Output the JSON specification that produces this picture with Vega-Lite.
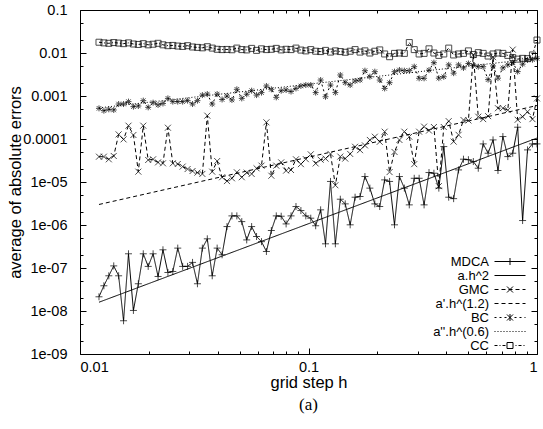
{
"$schema": "https://vega.github.io/schema/vega-lite/v6.json",
"width": 457, "height": 344,
"autosize": {"type": "none"},
"padding": {"left": 80, "top": 10, "right": 6, "bottom": 75},
"background": "white",
"title": {"text": "(a)", "orient": "bottom", "font": "Liberation Serif", "fontSize": 17, "fontWeight": "normal", "color": "black", "offset": 6},
"config": {
  "view": {"stroke": "black", "strokeWidth": 1},
  "font": "Liberation Sans",
  "axis": {"grid": false, "domain": false, "labelFont": "Liberation Sans", "labelFontSize": 14.5, "labelColor": "black", "titleFont": "Liberation Sans", "titleFontSize": 16.5, "titleFontWeight": "normal", "titleColor": "black", "tickColor": "black", "tickWidth": 1},
  "legend": {"labelFont": "Liberation Sans", "labelFontSize": 13, "labelColor": "black", "labelAlign": "right", "labelOffset": -17, "symbolSize": 100, "rowPadding": 0, "symbolStrokeColor": "black", "symbolFillColor": "transparent", "symbolStrokeWidth": 1, "symbolOpacity": 1, "padding": 0}
},
"resolve": {"axis": {"x": "independent", "y": "independent"}},
"datasets": {"d": [
{"h":0.01211,"series":"MDCA","err":2.14e-8},{"h":0.01272,"series":"MDCA","err":3.86e-8},{"h":0.01337,"series":"MDCA","err":6.59e-8},{"h":0.01405,"series":"MDCA","err":1.12e-7},{"h":0.01476,"series":"MDCA","err":6.59e-8},{"h":0.01551,"series":"MDCA","err":5.93e-9},{"h":0.0163,"series":"MDCA","err":2.14e-7},{"h":0.01713,"series":"MDCA","err":1.03e-8},{"h":0.018,"series":"MDCA","err":4.3e-8},{"h":0.01892,"series":"MDCA","err":2.14e-7},{"h":0.01988,"series":"MDCA","err":1.09e-7},{"h":0.02089,"series":"MDCA","err":2.14e-7},{"h":0.02196,"series":"MDCA","err":6.35e-8},{"h":0.02307,"series":"MDCA","err":2.65e-7},{"h":0.02425,"series":"MDCA","err":7.87e-8},{"h":0.02548,"series":"MDCA","err":8.3e-8},{"h":0.02678,"series":"MDCA","err":2.9e-7},{"h":0.02814,"series":"MDCA","err":1.09e-7},{"h":0.02957,"series":"MDCA","err":1.09e-7},{"h":0.03108,"series":"MDCA","err":1.35e-7},{"h":0.03266,"series":"MDCA","err":4.3e-8},{"h":0.03432,"series":"MDCA","err":2.9e-7},{"h":0.03607,"series":"MDCA","err":4.77e-7},{"h":0.0379,"series":"MDCA","err":6.59e-8},{"h":0.03983,"series":"MDCA","err":2.9e-7},{"h":0.04186,"series":"MDCA","err":2.03e-7},{"h":0.04399,"series":"MDCA","err":9.2e-7},{"h":0.04623,"series":"MDCA","err":1.63e-6},{"h":0.04858,"series":"MDCA","err":1.63e-6},{"h":0.05105,"series":"MDCA","err":1.2e-6},{"h":0.05365,"series":"MDCA","err":4.5e-7},{"h":0.05638,"series":"MDCA","err":9.2e-7},{"h":0.05925,"series":"MDCA","err":5.4e-7},{"h":0.06227,"series":"MDCA","err":4.1e-7},{"h":0.06544,"series":"MDCA","err":2.42e-7},{"h":0.06877,"series":"MDCA","err":7.45e-7},{"h":0.07227,"series":"MDCA","err":1.63e-6},{"h":0.07595,"series":"MDCA","err":1.6e-6},{"h":0.07981,"series":"MDCA","err":1.06e-6},{"h":0.08387,"series":"MDCA","err":1.63e-6},{"h":0.08814,"series":"MDCA","err":2.69e-6},{"h":0.09263,"series":"MDCA","err":2.17e-6},{"h":0.09734,"series":"MDCA","err":1.63e-6},{"h":0.1023,"series":"MDCA","err":1.44e-6},{"h":0.1075,"series":"MDCA","err":9.6e-7},{"h":0.113,"series":"MDCA","err":2.25e-6},{"h":0.1187,"series":"MDCA","err":3.65e-7},{"h":0.1248,"series":"MDCA","err":1.03e-5},{"h":0.1311,"series":"MDCA","err":3.65e-7},{"h":0.1378,"series":"MDCA","err":3.98e-6},{"h":0.1448,"series":"MDCA","err":3.1e-6},{"h":0.1522,"series":"MDCA","err":1.01e-6},{"h":0.1599,"series":"MDCA","err":4.43e-6},{"h":0.1681,"series":"MDCA","err":4.6e-6},{"h":0.1766,"series":"MDCA","err":1.34e-5},{"h":0.1856,"series":"MDCA","err":7.2e-6},{"h":0.1951,"series":"MDCA","err":3.1e-6},{"h":0.205,"series":"MDCA","err":2.69e-6},{"h":0.2154,"series":"MDCA","err":1.12e-5},{"h":0.2264,"series":"MDCA","err":1.03e-5},{"h":0.2379,"series":"MDCA","err":1.01e-6},{"h":0.25,"series":"MDCA","err":1.34e-5},{"h":0.2627,"series":"MDCA","err":7.2e-6},{"h":0.2761,"series":"MDCA","err":2.94e-6},{"h":0.2902,"series":"MDCA","err":1.22e-5},{"h":0.3049,"series":"MDCA","err":1.22e-5},{"h":0.3205,"series":"MDCA","err":2.94e-6},{"h":0.3368,"series":"MDCA","err":1.66e-5},{"h":0.3539,"series":"MDCA","err":1.6e-5},{"h":0.3719,"series":"MDCA","err":7.2e-6},{"h":0.3909,"series":"MDCA","err":6.67e-5},{"h":0.4108,"series":"MDCA","err":4.43e-6},{"h":0.4317,"series":"MDCA","err":4.1e-6},{"h":0.4536,"series":"MDCA","err":1.91e-5},{"h":0.4767,"series":"MDCA","err":3.39e-5},{"h":0.501,"series":"MDCA","err":3.3e-5},{"h":0.5265,"series":"MDCA","err":2.99e-5},{"h":0.5533,"series":"MDCA","err":2.09e-5},{"h":0.5814,"series":"MDCA","err":7.69e-5},{"h":0.611,"series":"MDCA","err":4.67e-5},{"h":0.6421,"series":"MDCA","err":9.53e-5},{"h":0.6748,"series":"MDCA","err":1.85e-5},{"h":0.7091,"series":"MDCA","err":1.14e-4},{"h":0.7452,"series":"MDCA","err":3.9e-5},{"h":0.7832,"series":"MDCA","err":4.67e-5},{"h":0.823,"series":"MDCA","err":1.88e-4},{"h":0.8649,"series":"MDCA","err":1.27e-6},{"h":0.9089,"series":"MDCA","err":5.58e-5},{"h":0.9552,"series":"MDCA","err":7.69e-5},{"h":1,"series":"MDCA","err":7.69e-5},
{"h":0.01211,"series":"GMC","err":3.88e-5},{"h":0.01272,"series":"GMC","err":3.88e-5},{"h":0.01337,"series":"GMC","err":3.37e-5},{"h":0.01405,"series":"GMC","err":4.03e-5},{"h":0.01476,"series":"GMC","err":1.28e-4},{"h":0.01551,"series":"GMC","err":9.8e-5},{"h":0.0163,"series":"GMC","err":2.04e-4},{"h":0.01713,"series":"GMC","err":1.24e-4},{"h":0.018,"series":"GMC","err":1.74e-5},{"h":0.01892,"series":"GMC","err":2.04e-4},{"h":0.01988,"series":"GMC","err":3.25e-5},{"h":0.02089,"series":"GMC","err":3.37e-5},{"h":0.02196,"series":"GMC","err":2.86e-5},{"h":0.02307,"series":"GMC","err":2.72e-5},{"h":0.02425,"series":"GMC","err":1.83e-4},{"h":0.02548,"series":"GMC","err":2.72e-5},{"h":0.02678,"series":"GMC","err":2.62e-5},{"h":0.02814,"series":"GMC","err":2.28e-5},{"h":0.02957,"series":"GMC","err":2.0e-5},{"h":0.03108,"series":"GMC","err":1.8e-5},{"h":0.03266,"series":"GMC","err":1.65e-5},{"h":0.03432,"series":"GMC","err":1.54e-5},{"h":0.03607,"series":"GMC","err":3.49e-4},{"h":0.0379,"series":"GMC","err":1.74e-5},{"h":0.03983,"series":"GMC","err":3.07e-5},{"h":0.04186,"series":"GMC","err":1.29e-5},{"h":0.04399,"series":"GMC","err":1.05e-5},{"h":0.04623,"series":"GMC","err":1.22e-5},{"h":0.04858,"series":"GMC","err":1.68e-5},{"h":0.05105,"series":"GMC","err":1.29e-5},{"h":0.05365,"series":"GMC","err":1.65e-5},{"h":0.05638,"series":"GMC","err":1.54e-5},{"h":0.05925,"series":"GMC","err":2.08e-5},{"h":0.06227,"series":"GMC","err":2.4e-5},{"h":0.06544,"series":"GMC","err":2.44e-4},{"h":0.06877,"series":"GMC","err":1.4e-5},{"h":0.07227,"series":"GMC","err":2.4e-5},{"h":0.07595,"series":"GMC","err":2.86e-5},{"h":0.07981,"series":"GMC","err":1.84e-5},{"h":0.08387,"series":"GMC","err":1.9e-5},{"h":0.08814,"series":"GMC","err":3.37e-5},{"h":0.09263,"series":"GMC","err":2.6e-5},{"h":0.09734,"series":"GMC","err":3.4e-5},{"h":0.1023,"series":"GMC","err":4.4e-5},{"h":0.1075,"series":"GMC","err":2.7e-5},{"h":0.113,"series":"GMC","err":3.3e-5},{"h":0.1187,"series":"GMC","err":3.5e-5},{"h":0.1248,"series":"GMC","err":4.5e-5},{"h":0.1311,"series":"GMC","err":8.4e-6},{"h":0.1378,"series":"GMC","err":3.9e-5},{"h":0.1448,"series":"GMC","err":3.5e-5},{"h":0.1522,"series":"GMC","err":4.5e-5},{"h":0.1599,"series":"GMC","err":6.6e-5},{"h":0.1681,"series":"GMC","err":5.5e-5},{"h":0.1766,"series":"GMC","err":7.1e-5},{"h":0.1856,"series":"GMC","err":9.5e-5},{"h":0.1951,"series":"GMC","err":1.13e-4},{"h":0.205,"series":"GMC","err":8.6e-5},{"h":0.2154,"series":"GMC","err":1.48e-4},{"h":0.2264,"series":"GMC","err":1.7e-5},{"h":0.2379,"series":"GMC","err":5.0e-5},{"h":0.25,"series":"GMC","err":9.5e-5},{"h":0.2627,"series":"GMC","err":1.48e-4},{"h":0.2761,"series":"GMC","err":1.13e-4},{"h":0.2902,"series":"GMC","err":2.6e-5},{"h":0.3049,"series":"GMC","err":1.48e-4},{"h":0.3205,"series":"GMC","err":1.94e-4},{"h":0.3368,"series":"GMC","err":1.57e-4},{"h":0.3539,"series":"GMC","err":1.9e-4},{"h":0.3719,"series":"GMC","err":8.0e-6},{"h":0.3909,"series":"GMC","err":1.9e-4},{"h":0.4108,"series":"GMC","err":2.6e-4},{"h":0.4317,"series":"GMC","err":8.7e-5},{"h":0.4536,"series":"GMC","err":1.25e-4},{"h":0.4767,"series":"GMC","err":2.77e-4},{"h":0.501,"series":"GMC","err":2.7e-4},{"h":0.5265,"series":"GMC","err":9.0e-3},{"h":0.5533,"series":"GMC","err":3.3e-4},{"h":0.5814,"series":"GMC","err":2.9e-4},{"h":0.611,"series":"GMC","err":3.4e-4},{"h":0.6421,"series":"GMC","err":8.0e-3},{"h":0.6748,"series":"GMC","err":5.2e-4},{"h":0.7091,"series":"GMC","err":5.2e-4},{"h":0.7452,"series":"GMC","err":4.7e-4},{"h":0.7832,"series":"GMC","err":1.2e-2},{"h":0.823,"series":"GMC","err":2.8e-4},{"h":0.8649,"series":"GMC","err":3.3e-4},{"h":0.9089,"series":"GMC","err":4.3e-4},{"h":0.9552,"series":"GMC","err":2.9e-4},{"h":1,"series":"GMC","err":8.8e-4},
{"h":0.01211,"series":"BC","err":5.16e-4},{"h":0.01272,"series":"BC","err":4.56e-4},{"h":0.01337,"series":"BC","err":4.9e-4},{"h":0.01405,"series":"BC","err":4.73e-4},{"h":0.01476,"series":"BC","err":6.5e-4},{"h":0.01551,"series":"BC","err":6.5e-4},{"h":0.0163,"series":"BC","err":7.4e-4},{"h":0.01713,"series":"BC","err":5.65e-4},{"h":0.018,"series":"BC","err":5.85e-4},{"h":0.01892,"series":"BC","err":7.8e-4},{"h":0.01988,"series":"BC","err":5.45e-4},{"h":0.02089,"series":"BC","err":7.0e-4},{"h":0.02196,"series":"BC","err":6.2e-4},{"h":0.02307,"series":"BC","err":6.7e-4},{"h":0.02425,"series":"BC","err":8.8e-4},{"h":0.02548,"series":"BC","err":7.4e-4},{"h":0.02678,"series":"BC","err":7.4e-4},{"h":0.02814,"series":"BC","err":7.4e-4},{"h":0.02957,"series":"BC","err":7.8e-4},{"h":0.03108,"series":"BC","err":6.5e-4},{"h":0.03266,"series":"BC","err":7.8e-4},{"h":0.03432,"series":"BC","err":1.05e-3},{"h":0.03607,"series":"BC","err":1.11e-3},{"h":0.0379,"series":"BC","err":6.5e-4},{"h":0.03983,"series":"BC","err":1.11e-3},{"h":0.04186,"series":"BC","err":8.3e-4},{"h":0.04399,"series":"BC","err":1.0e-3},{"h":0.04623,"series":"BC","err":8.1e-4},{"h":0.04858,"series":"BC","err":1.43e-3},{"h":0.05105,"series":"BC","err":8.8e-4},{"h":0.05365,"series":"BC","err":1.1e-3},{"h":0.05638,"series":"BC","err":1.33e-3},{"h":0.05925,"series":"BC","err":1.05e-3},{"h":0.06227,"series":"BC","err":1.2e-3},{"h":0.06544,"series":"BC","err":1.71e-3},{"h":0.06877,"series":"BC","err":1.43e-3},{"h":0.07227,"series":"BC","err":9.3e-4},{"h":0.07595,"series":"BC","err":1.33e-3},{"h":0.07981,"series":"BC","err":1.38e-3},{"h":0.08387,"series":"BC","err":1.27e-3},{"h":0.08814,"series":"BC","err":1.5e-3},{"h":0.09263,"series":"BC","err":1.71e-3},{"h":0.09734,"series":"BC","err":1.8e-3},{"h":0.1023,"series":"BC","err":1.8e-3},{"h":0.1075,"series":"BC","err":1.2e-3},{"h":0.113,"series":"BC","err":2.35e-3},{"h":0.1187,"series":"BC","err":9.6e-4},{"h":0.1248,"series":"BC","err":1.8e-3},{"h":0.1311,"series":"BC","err":1.2e-3},{"h":0.1378,"series":"BC","err":3.08e-3},{"h":0.1448,"series":"BC","err":2.04e-3},{"h":0.1522,"series":"BC","err":1.8e-3},{"h":0.1599,"series":"BC","err":2.23e-3},{"h":0.1681,"series":"BC","err":2.35e-3},{"h":0.1766,"series":"BC","err":3.88e-3},{"h":0.1856,"series":"BC","err":2.82e-3},{"h":0.1951,"series":"BC","err":3.68e-3},{"h":0.205,"series":"BC","err":2.35e-3},{"h":0.2154,"series":"BC","err":1.5e-3},{"h":0.2264,"series":"BC","err":2.04e-3},{"h":0.2379,"series":"BC","err":3.68e-3},{"h":0.25,"series":"BC","err":4.03e-3},{"h":0.2627,"series":"BC","err":3.88e-3},{"h":0.2761,"series":"BC","err":3.88e-3},{"h":0.2902,"series":"BC","err":4.81e-3},{"h":0.3049,"series":"BC","err":2.58e-3},{"h":0.3205,"series":"BC","err":2.58e-3},{"h":0.3368,"series":"BC","err":4.0e-3},{"h":0.3539,"series":"BC","err":5.96e-3},{"h":0.3719,"series":"BC","err":2.6e-3},{"h":0.3909,"series":"BC","err":2.8e-3},{"h":0.4108,"series":"BC","err":5.3e-3},{"h":0.4317,"series":"BC","err":3.4e-3},{"h":0.4536,"series":"BC","err":5.3e-3},{"h":0.4767,"series":"BC","err":4.5e-3},{"h":0.501,"series":"BC","err":5.7e-3},{"h":0.5265,"series":"BC","err":5.2e-3},{"h":0.5533,"series":"BC","err":4.8e-3},{"h":0.5814,"series":"BC","err":4.8e-3},{"h":0.611,"series":"BC","err":2.4e-3},{"h":0.6421,"series":"BC","err":5.0e-3},{"h":0.6748,"series":"BC","err":2.6e-3},{"h":0.7091,"series":"BC","err":4.5e-3},{"h":0.7452,"series":"BC","err":5.3e-3},{"h":0.7832,"series":"BC","err":6.0e-3},{"h":0.823,"series":"BC","err":3.7e-3},{"h":0.8649,"series":"BC","err":5.5e-3},{"h":0.9089,"series":"BC","err":6.9e-3},{"h":0.9552,"series":"BC","err":7.0e-3},{"h":1,"series":"BC","err":7.5e-3},
{"h":0.01211,"series":"CC","err":0.0178},{"h":0.01272,"series":"CC","err":0.0172},{"h":0.01337,"series":"CC","err":0.0168},{"h":0.01405,"series":"CC","err":0.0175},{"h":0.01476,"series":"CC","err":0.017},{"h":0.01551,"series":"CC","err":0.0165},{"h":0.0163,"series":"CC","err":0.0172},{"h":0.01713,"series":"CC","err":0.0162},{"h":0.018,"series":"CC","err":0.0158},{"h":0.01892,"series":"CC","err":0.0165},{"h":0.01988,"series":"CC","err":0.0155},{"h":0.02089,"series":"CC","err":0.016},{"h":0.02196,"series":"CC","err":0.0168},{"h":0.02307,"series":"CC","err":0.0155},{"h":0.02425,"series":"CC","err":0.0148},{"h":0.02548,"series":"CC","err":0.015},{"h":0.02678,"series":"CC","err":0.0145},{"h":0.02814,"series":"CC","err":0.0142},{"h":0.02957,"series":"CC","err":0.0148},{"h":0.03108,"series":"CC","err":0.0138},{"h":0.03266,"series":"CC","err":0.0135},{"h":0.03432,"series":"CC","err":0.0132},{"h":0.03607,"series":"CC","err":0.014},{"h":0.0379,"series":"CC","err":0.013},{"h":0.03983,"series":"CC","err":0.0122},{"h":0.04186,"series":"CC","err":0.012},{"h":0.04399,"series":"CC","err":0.0121},{"h":0.04623,"series":"CC","err":0.0119},{"h":0.04858,"series":"CC","err":0.013},{"h":0.05105,"series":"CC","err":0.012},{"h":0.05365,"series":"CC","err":0.0118},{"h":0.05638,"series":"CC","err":0.0128},{"h":0.05925,"series":"CC","err":0.0115},{"h":0.06227,"series":"CC","err":0.0125},{"h":0.06544,"series":"CC","err":0.012},{"h":0.06877,"series":"CC","err":0.0122},{"h":0.07227,"series":"CC","err":0.0128},{"h":0.07595,"series":"CC","err":0.0118},{"h":0.07981,"series":"CC","err":0.0122},{"h":0.08387,"series":"CC","err":0.012},{"h":0.08814,"series":"CC","err":0.013},{"h":0.09263,"series":"CC","err":0.0117},{"h":0.09734,"series":"CC","err":0.0112},{"h":0.1023,"series":"CC","err":0.012},{"h":0.1075,"series":"CC","err":0.011},{"h":0.113,"series":"CC","err":0.0108},{"h":0.1187,"series":"CC","err":0.0115},{"h":0.1248,"series":"CC","err":0.0105},{"h":0.1311,"series":"CC","err":0.0112},{"h":0.1378,"series":"CC","err":0.0108},{"h":0.1448,"series":"CC","err":0.0104},{"h":0.1522,"series":"CC","err":0.011},{"h":0.1599,"series":"CC","err":0.012},{"h":0.1681,"series":"CC","err":0.0105},{"h":0.1766,"series":"CC","err":0.0112},{"h":0.1856,"series":"CC","err":0.01},{"h":0.1951,"series":"CC","err":0.011},{"h":0.205,"series":"CC","err":0.0118},{"h":0.2154,"series":"CC","err":0.0095},{"h":0.2264,"series":"CC","err":0.0082},{"h":0.2379,"series":"CC","err":0.0098},{"h":0.25,"series":"CC","err":0.01},{"h":0.2627,"series":"CC","err":0.0098},{"h":0.2761,"series":"CC","err":0.0175},{"h":0.2902,"series":"CC","err":0.012},{"h":0.3049,"series":"CC","err":0.0095},{"h":0.3205,"series":"CC","err":0.0098},{"h":0.3368,"series":"CC","err":0.0125},{"h":0.3539,"series":"CC","err":0.01},{"h":0.3719,"series":"CC","err":0.0088},{"h":0.3909,"series":"CC","err":0.0095},{"h":0.4108,"series":"CC","err":0.013},{"h":0.4317,"series":"CC","err":0.009},{"h":0.4536,"series":"CC","err":0.0095},{"h":0.4767,"series":"CC","err":0.0098},{"h":0.501,"series":"CC","err":0.0112},{"h":0.5265,"series":"CC","err":0.0092},{"h":0.5533,"series":"CC","err":0.0102},{"h":0.5814,"series":"CC","err":0.0098},{"h":0.611,"series":"CC","err":0.0085},{"h":0.6421,"series":"CC","err":0.0095},{"h":0.6748,"series":"CC","err":0.01},{"h":0.7091,"series":"CC","err":0.0098},{"h":0.7452,"series":"CC","err":0.0088},{"h":0.7832,"series":"CC","err":0.0078},{"h":0.823,"series":"CC","err":0.0072},{"h":0.8649,"series":"CC","err":0.0075},{"h":0.9089,"series":"CC","err":0.0074},{"h":0.9552,"series":"CC","err":0.009},{"h":1,"series":"CC","err":0.02},
{"h":0.01211,"series":"a.h^2","err":1.6e-8},{"h":1,"series":"a.h^2","err":1.05e-4},
{"h":0.01211,"series":"a'.h^(1.2)","err":3.0e-6},{"h":1,"series":"a'.h^(1.2)","err":6.0e-4},
{"h":0.01211,"series":"a''.h^(0.6)","err":5.3e-4},{"h":1,"series":"a''.h^(0.6)","err":7.5e-3}
]},
"data": {"name": "d"},
"layer": [
{
 "mark": {"type": "line", "stroke": "black", "strokeWidth": 1},
 "encoding": {
  "x": {"field": "h", "type": "quantitative", "scale": {"type": "log", "domain": [0.01, 1], "nice": false},
        "axis": {"orient": "bottom", "values": [0.01, 0.1, 1], "format": "~g", "tickSize": -6, "labelPadding": 12, "title": "grid step h", "titlePadding": 1}},
  "y": {"field": "err", "type": "quantitative", "scale": {"type": "log", "domain": [1e-9, 0.1], "nice": false},
        "axis": {"orient": "left", "values": [1e-9, 1e-8, 1e-7, 1e-6, 1e-5, 1e-4, 1e-3, 1e-2, 1e-1], "labelExpr": "datum.value >= 0.00005 ? format(datum.value, '~g') : '1e-0' + format(-round(log(datum.value)/LN10), 'd')", "tickSize": -6, "labelPadding": 19, "title": "average of absolute errors", "titlePadding": -1}},
  "strokeDash": {"field": "series", "type": "nominal",
        "scale": {"domain": ["a.h^2", "MDCA", "GMC", "a'.h^(1.2)", "BC", "a''.h^(0.6)", "CC"], "range": [[1, 0], [1, 0], [4, 3], [4, 3], [2, 3], [1, 2], [3, 2, 1, 2]]},
        "legend": null}
 }
},
{
 "transform": [{"filter": {"field": "series", "equal": "MDCA"}}],
 "mark": {"type": "point", "shape": "M-1,0H1M0,-1V1", "filled": false, "stroke": "black", "strokeWidth": 1, "size": 49},
 "encoding": {
  "x": {"field": "h", "type": "quantitative", "scale": {"type": "log", "domain": [0.01, 1], "nice": false},
        "axis": {"orient": "top", "values": [0.01, 0.1, 1], "labels": false, "tickSize": -6, "title": null}},
  "y": {"field": "err", "type": "quantitative", "scale": {"type": "log", "domain": [1e-9, 0.1], "nice": false},
        "axis": {"orient": "right", "values": [1e-9, 1e-8, 1e-7, 1e-6, 1e-5, 1e-4, 1e-3, 1e-2, 1e-1], "labels": false, "tickSize": -6, "title": null}}
 }
},
{
 "transform": [{"filter": {"field": "series", "equal": "GMC"}}],
 "mark": {"type": "point", "shape": "M-1,-1L1,1M-1,1L1,-1", "filled": false, "stroke": "black", "strokeWidth": 1, "size": 36},
 "encoding": {
  "x": {"field": "h", "type": "quantitative", "scale": {"type": "log", "domain": [0.01, 1], "nice": false},
        "axis": {"orient": "bottom", "values": [0.02, 0.03, 0.04, 0.05, 0.06, 0.07, 0.08, 0.09, 0.2, 0.3, 0.4, 0.5, 0.6, 0.7, 0.8, 0.9], "labels": false, "tickSize": -3, "title": null}},
  "y": {"field": "err", "type": "quantitative", "scale": {"type": "log", "domain": [1e-9, 0.1], "nice": false},
        "axis": {"orient": "left", "values": [2e-9, 5e-9, 2e-8, 5e-8, 2e-7, 5e-7, 2e-6, 5e-6, 2e-5, 5e-5, 2e-4, 5e-4, 2e-3, 5e-3, 2e-2, 5e-2], "labels": false, "tickSize": -3, "title": null}}
 }
},
{
 "transform": [{"filter": {"field": "series", "equal": "BC"}}],
 "mark": {"type": "point", "shape": "M-1,0H1M0,-1V1M-0.75,-0.75L0.75,0.75M-0.75,0.75L0.75,-0.75", "filled": false, "stroke": "black", "strokeWidth": 1, "size": 36},
 "encoding": {
  "x": {"field": "h", "type": "quantitative", "scale": {"type": "log", "domain": [0.01, 1], "nice": false},
        "axis": {"orient": "top", "values": [0.02, 0.03, 0.04, 0.05, 0.06, 0.07, 0.08, 0.09, 0.2, 0.3, 0.4, 0.5, 0.6, 0.7, 0.8, 0.9], "labels": false, "tickSize": -3, "title": null}},
  "y": {"field": "err", "type": "quantitative", "scale": {"type": "log", "domain": [1e-9, 0.1], "nice": false},
        "axis": {"orient": "right", "values": [2e-9, 5e-9, 2e-8, 5e-8, 2e-7, 5e-7, 2e-6, 5e-6, 2e-5, 5e-5, 2e-4, 5e-4, 2e-3, 5e-3, 2e-2, 5e-2], "labels": false, "tickSize": -3, "title": null}}
 }
},
{
 "transform": [{"filter": {"field": "series", "equal": "CC"}}],
 "mark": {"type": "point", "shape": "M-1,-1H1V1H-1Z", "filled": false, "stroke": "black", "strokeWidth": 1, "size": 36},
 "encoding": {
  "x": {"field": "h", "type": "quantitative", "scale": {"type": "log", "domain": [0.01, 1], "nice": false}, "axis": null},
  "y": {"field": "err", "type": "quantitative", "scale": {"type": "log", "domain": [1e-9, 0.1], "nice": false}, "axis": null}
 }
},
{
 "transform": [{"filter": {"field": "h", "equal": 1}}],
 "mark": {"type": "point", "filled": false, "stroke": "black", "strokeWidth": 1, "opacity": 0},
 "encoding": {
  "x": {"field": "h", "type": "quantitative", "scale": {"type": "log", "domain": [0.01, 1], "nice": false}, "axis": null},
  "y": {"field": "err", "type": "quantitative", "scale": {"type": "log", "domain": [1e-9, 0.1], "nice": false}, "axis": null},
  "shape": {"field": "series", "type": "nominal",
        "scale": {"domain": ["MDCA", "a.h^2", "GMC", "a'.h^(1.2)", "BC", "a''.h^(0.6)", "CC"],
                  "range": [
                    "M-1,0H5.2M2.1,-0.7V0.7",
                    "M-1,0H5.2",
                    "M-1,0H-0.2M0.4,0H1.2M1.8,0H2.6M3.2,0H4M4.6,0H5.2M1.5,-0.6L2.7,0.6M1.5,0.6L2.7,-0.6",
                    "M-1,0H-0.2M0.4,0H1.2M1.8,0H2.6M3.2,0H4M4.6,0H5.2",
                    "M-1,0H-0.6M0,0H0.4M1,0H1.4M3,0H3.4M4,0H4.4M5,0H5.2M2.1,-0.7V0.7M1.5,-0.6L2.7,0.6M1.5,0.6L2.7,-0.6",
                    "M-1,0H-0.8M-0.4,0H-0.2M0.2,0H0.4M0.8,0H1M1.4,0H1.6M2,0H2.2M2.6,0H2.8M3.2,0H3.4M3.8,0H4M4.4,0H4.6M5,0H5.2",
                    "M-1,0H-0.4M0,0H0.2M0.6,0H1.2M3.2,0H3.4M3.8,0H4.4M4.8,0H5M1.5,-0.6H2.7V0.6H1.5Z"
                  ]},
        "legend": {"title": null, "orient": "none", "legendX": 413, "legendY": 245}}
 }
}
]
}
